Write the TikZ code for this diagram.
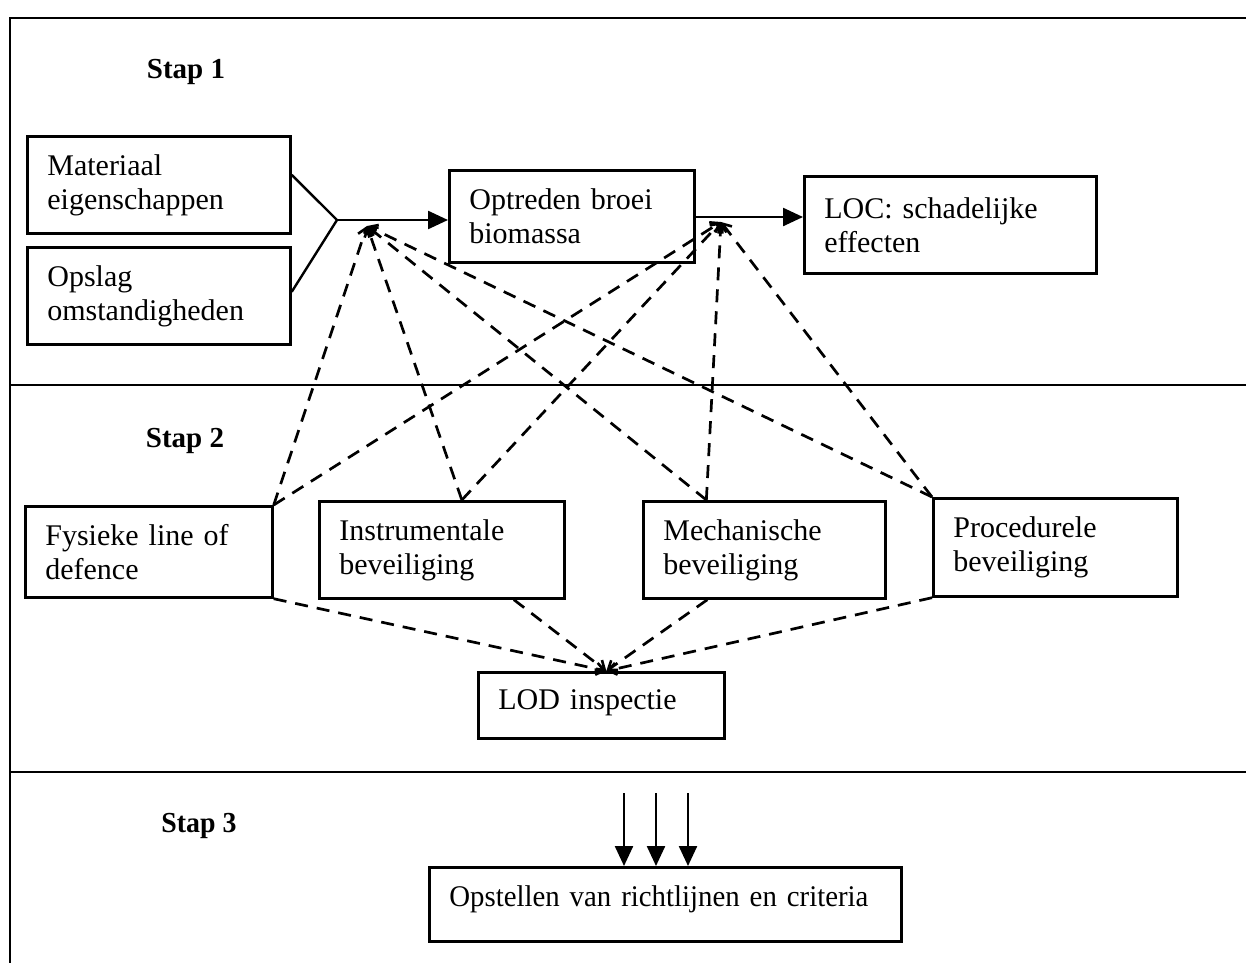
\documentclass[tikz,border=0pt]{standalone}
\usepackage{fontspec}
\setmainfont{Liberation Serif}
\newfontfamily\narrowserif[FakeStretch=0.96]{Liberation Serif}
\usetikzlibrary{arrows.meta}
\begin{document}
\begin{tikzpicture}[x=1pt,y=-1pt,
  box/.style={draw, line width=2.7pt, anchor=north west, inner xsep=20pt, inner ysep=0pt, align=left, font=\fontsize{30}{34}\selectfont},
  lbl/.style={font=\bfseries\fontsize{29}{32}\selectfont},
  flow/.style={line width=2.4pt, -{Triangle[length=20pt,width=18pt]}},
  solidline/.style={line width=2.4pt},
  dsh/.style={line width=2.7pt, dash pattern=on 13pt off 9pt, -{Straight Barb[length=8pt,width=12pt,line width=2.6pt]}},
  frameline/.style={line width=1.8pt}]
\useasboundingbox (0,0) rectangle (1246,963);
% frame and dividers
\draw[frameline] (1246,18) -- (10,18) -- (10,963);
\draw[frameline] (10,385) -- (1246,385);
\draw[frameline] (10,772) -- (1246,772);
% step labels
\node[lbl] (s1) at (186,72) {Stap 1};
\node[lbl] (s2) at (185,441) {Stap 2};
\node[lbl, font=\narrowserif\bfseries\fontsize{29}{32}\selectfont] (s3) at (199,826) {Stap 3};
% step 1 boxes
\node[box, minimum width=263pt, minimum height=97pt, text width=223pt] (mat) at (26,135) {Materiaal\\eigenschappen};
\node[box, minimum width=263pt, minimum height=97pt, text width=223pt] (ops) at (26,246) {Opslag\\omstandigheden};
\node[box, minimum width=245pt, minimum height=92pt, text width=205pt] (opt) at (448,169) {Optreden broei\\biomassa};
\node[box, minimum width=292pt, minimum height=97pt, text width=252pt] (loc) at (803,175) {LOC: schadelijke\\effecten};
% step 2 boxes
\node[box, minimum width=247pt, minimum height=91pt, text width=207pt] (fys) at (24,505) {Fysieke line of\\defence};
\node[box, minimum width=245pt, minimum height=97pt, text width=205pt] (ins) at (318,500) {Instrumentale\\beveiliging};
\node[box, minimum width=242pt, minimum height=97pt, text width=202pt] (mec) at (642,500) {Mechanische\\beveiliging};
\node[box, minimum width=244pt, minimum height=98pt, text width=204pt] (pro) at (932,497) {Procedurele\\beveiliging};
\node[box, minimum width=246pt, minimum height=66pt, text width=206pt, text depth=12pt] (lod) at (477,671) {LOD inspectie};
% step 3 box
\node[box, minimum width=472pt, minimum height=74pt, text width=432pt, text depth=16pt, font=\narrowserif\fontsize{30}{34}\selectfont] (opst) at (428,866) {\mbox{Opstellen van richtlijnen en criteria}};
% junction points
\coordinate (j0) at (337,220);
\coordinate (j1) at (721,217);
\coordinate (ja) at (367,226);
\coordinate (jb) at (721,222);
% step 1 connectors
\draw[solidline] ([yshift=10pt]mat.east) -- (j0);
\draw[solidline] ([yshift=4pt]ops.east) -- (j0);
\draw[flow] (j0) -- (j0 -| opt.west);
\draw[flow] (j1 -| opt.east) -- (j1 -| loc.west);
% step 2 source points
\coordinate (insT) at ([xshift=20pt]ins.north);
\coordinate (mecT) at ([xshift=-58pt]mec.north);
\coordinate (insB) at ([xshift=72pt]ins.south);
\coordinate (mecB) at ([xshift=-57pt]mec.south);
\coordinate (lodT) at ([xshift=5pt]lod.north);
% dashed links upward
\draw[dsh] (fys.north east) -- (ja);
\draw[dsh] (fys.north east) -- (jb);
\draw[dsh] (insT) -- (ja);
\draw[dsh] (insT) -- (jb);
\draw[dsh] (mecT) -- (ja);
\draw[dsh] (mecT) -- (jb);
\draw[dsh] (pro.north west) -- (ja);
\draw[dsh] (pro.north west) -- (jb);
% dashed links to LOD
\draw[dsh] (fys.south east) -- (lodT);
\draw[dsh] (insB) -- (lodT);
\draw[dsh] (mecB) -- (lodT);
\draw[dsh] (pro.south west) -- (lodT);
% step 3 arrows
\coordinate (a1) at (624,793);
\coordinate (a2) at (656,793);
\coordinate (a3) at (688,793);
\draw[flow] (a1) -- (a1 |- opst.north);
\draw[flow] (a2) -- (a2 |- opst.north);
\draw[flow] (a3) -- (a3 |- opst.north);
\end{tikzpicture}
\end{document}
